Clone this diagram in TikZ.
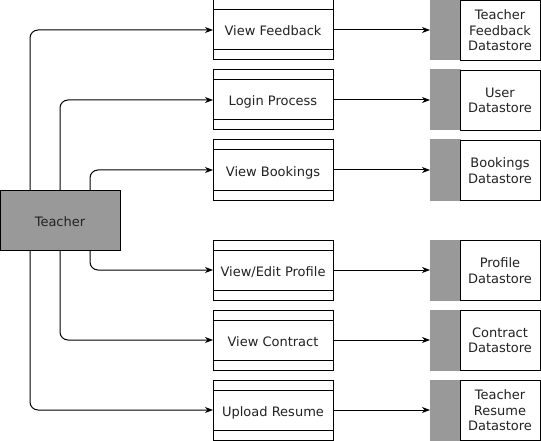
\documentclass[tikz,border=0pt]{standalone}
\usepackage{fontspec}
\setmainfont{DejaVu Sans}
\usetikzlibrary{arrows.meta}
\definecolor{fillg}{HTML}{999999}
\definecolor{txt}{HTML}{222222}
\tikzset{
  base/.style={font=\fontsize{13}{15.5}\selectfont, text=txt, line width=1pt, inner sep=0pt, outer sep=0pt},
  actor/.style={base, draw=black, fill=fillg, minimum width=120pt, minimum height=60pt, text height=12pt, text depth=0pt},
  proc/.style={base, draw=black, fill=white, minimum width=120pt, minimum height=60pt, text height=12pt, text depth=0pt},
  strip/.style={line width=1pt},
  dsw/.style={base, draw=black, fill=white, minimum width=80pt, minimum height=60pt, align=center},
  dsg/.style={base, draw=gray!120!black, fill=fillg, minimum width=30pt, minimum height=60pt},
  arr/.style={line width=1pt, -{Stealth[length=8pt,width=6pt,inset=2.5pt]}},
}
\begin{document}
\begin{tikzpicture}[x=1pt,y=-1pt]
\useasboundingbox (0,0) rectangle (541,441);
\node[actor] (teacher) at (60,220) {Teacher};
\node[proc] (p1) at (273,30) {View Feedback};
\node[proc] (p2) at (273,100) {Login Process};
\node[proc] (p3) at (273,170) {View Bookings};
\node[proc] (p4) at (273,270) {View/Edit Profile};
\node[proc] (p5) at (273,340) {View Contract};
\node[proc] (p6) at (273,410) {Upload Resume};
\foreach \n in {p1,p2,p3,p4,p5,p6}{
  \draw[strip] ([yshift=-10pt]\n.north west) -- ([yshift=-10pt]\n.north east);
  \draw[strip] ([yshift=10pt]\n.south west) -- ([yshift=10pt]\n.south east);
}

\node[dsg] (g1) at (445,30) {};
\node[dsw] (d1) at (500,30.5) {Teacher\\Feedback\\Datastore};
\node[dsg] (g2) at (445,100) {};
\node[dsw] (d2) at (500,100.5) {User\\Datastore};
\node[dsg] (g3) at (445,170) {};
\node[dsw] (d3) at (500,170.5) {Bookings\\Datastore};
\node[dsg] (g4) at (445,270) {};
\node[dsw] (d4) at (500,270.5) {Profile\\Datastore};
\node[dsg] (g5) at (445,340) {};
\node[dsw] (d5) at (500,340.5) {Contract\\Datastore};
\node[dsg] (g6) at (445,410) {};
\node[dsw] (d6) at (500,410.5) {Teacher\\Resume\\Datastore};

\draw[arr, rounded corners=8pt] ([xshift=-30pt]teacher.north) |- (p1.west);
\draw[arr, rounded corners=8pt] (teacher.north) |- (p2.west);
\draw[arr, rounded corners=8pt] ([xshift=30pt]teacher.north) |- (p3.west);
\draw[arr, rounded corners=8pt] ([xshift=30pt]teacher.south) |- (p4.west);
\draw[arr, rounded corners=8pt] (teacher.south) |- (p5.west);
\draw[arr, rounded corners=8pt] ([xshift=-30pt]teacher.south) |- (p6.west);

\draw[arr] (p1) -- (g1);
\draw[arr] (p2) -- (g2);
\draw[arr] (p3) -- (g3);
\draw[arr] (p4) -- (g4);
\draw[arr] (p5) -- (g5);
\draw[arr] (p6) -- (g6);
\end{tikzpicture}
\end{document}
